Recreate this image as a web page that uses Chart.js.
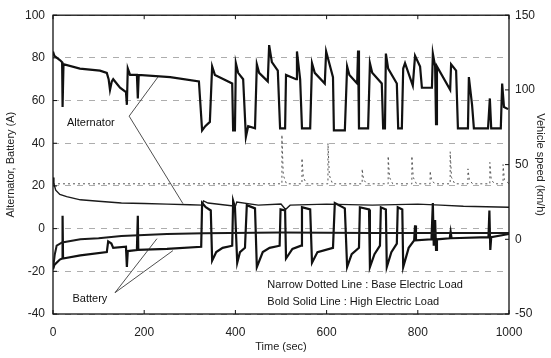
<!DOCTYPE html>
<html>
<head>
<meta charset="utf-8">
<script src="https://cdn.jsdelivr.net/npm/chart.js@4.4.1/dist/chart.umd.min.js"></script>
<style>
  html, body { margin: 0; padding: 0; background: #fff; }
  #wrap { width: 551px; height: 358px; position: relative; }
</style>
</head>
<body>
<div id="wrap"><canvas id="chart"></canvas></div>
<script>
// ---------------------------------------------------------------------------
// Data (time in sec, current in A)
// ---------------------------------------------------------------------------
const xTicks = [0, 200, 400, 600, 800, 1000];
const leftTicks = [-40, -20, 0, 20, 40, 60, 80, 100];
const rightTicks = [-50, 0, 50, 100, 150];

// Alternator, high electric load (bold solid)
const altHigh = [
    [0, 83], [3, 81], [15, 79], [20, 78], [21, 57], [23, 77], [59, 75], [103, 74], [118, 73],
    [122, 70], [125, 65], [129, 69], [132, 70], [147, 66], [160, 64], [162, 58], [164, 75],
    [169, 72], [184, 72], [186, 61], [188, 72], [257, 71], [320, 69], [327, 46], [334, 48],
    [344, 50], [349, 76], [355, 72], [393, 68], [395, 46], [399, 46], [401, 77.5], [406, 73],
    [417, 70], [423, 43], [428, 48], [443, 47], [447, 77], [452, 73], [471, 69], [474, 86],
    [480, 78], [493, 74], [498, 47], [509, 47], [511, 72], [533, 70], [535, 83], [542, 70],
    [546, 47], [564, 47], [568, 77.5], [574, 73], [596, 68], [599, 83], [614, 71], [616, 46],
    [640, 46], [645, 76], [650, 72], [667, 68], [669, 83.5], [671, 47], [691, 47], [695, 77.5],
    [700, 73], [721, 68], [724, 47], [728, 47], [730, 82], [735, 75], [754, 68], [757, 47],
    [765, 47], [768, 75], [772, 77.5], [789, 67], [794, 81], [805, 76], [809, 66], [831, 66],
    [833, 82], [838, 76], [840, 49], [842, 76], [871, 65], [873, 77], [884, 74], [888, 47],
    [910, 47], [912, 71], [919, 58], [923, 47], [954, 47], [958, 61], [961, 47], [982, 47],
    [985, 68], [989, 57], [998, 56]
];

// Battery, high electric load (bold solid)
const batHigh = [
    [0, -19], [3, -17], [15, -14.5], [20, -14], [21, 6], [22, -14], [60, -12.5], [118, -11],
    [121, -6], [128, -7], [132, -9], [160, -8.5], [162, -18], [164, -10.5], [184, -10], [186, 6],
    [187, -10], [250, -9.5], [325, -8.5], [327, 12], [335, 10], [346, 8.5], [349, -15], [358, -11],
    [372, -9], [393, -8], [395, 13], [399, 10], [404, -16], [410, -11], [421, -9], [425, 11],
    [443, 9.5], [447, -18], [460, -11], [475, -9], [497, -8], [499, 9], [509, 8.5], [511, -14],
    [525, -9.5], [544, -8], [546, 10], [564, 9], [568, -16], [580, -11], [614, -9], [618, 12],
    [640, 9.5], [645, -18], [655, -12], [671, -9], [673, 10], [693, 9], [695, -18], [705, -12],
    [717, -8], [719, 10], [730, 9], [732, -18], [742, -11], [754, -7], [756, 10], [766, 9],
    [768, -18], [780, -9], [792, -5.5], [794, 1.5], [796, -5.5], [830, -5], [833, 12], [835, -8],
    [838, 4], [840, -10], [842, -5], [870, -4.5], [872, -1.5], [874, -4.5], [955, -4], [957, 8.5],
    [959, -10], [961, -4], [1000, -2.5]
];

// Alternator, base electric load
const altBase = [
    [0, 24], [2, 21], [6, 18], [15, 16], [30, 15], [60, 13.5], [100, 12.8], [150, 12], [200, 11.8],
    [250, 11.5], [300, 11.2], [327, 11], [330, 13], [340, 12], [400, 10.5], [403, 12.5], [450, 11],
    [500, 11.5], [510, 9], [520, 11], [600, 11.5], [700, 11], [800, 11.5], [850, 11], [900, 10.5],
    [1000, 10]
];

// Battery, base electric load
const batBase = [
    [0, -19], [4, -12], [8, -8], [20, -6.5], [60, -5], [100, -4.5], [150, -3.5], [200, -3],
    [250, -2.5], [330, -2.2], [500, -1.8], [700, -2], [1000, -2]
];

// Narrow dotted line (base load transients)
const dottedBase = [
    [0, 21], [502, 21], [502, 44], [505, 25], [512, 21], [546, 21], [546, 33], [549, 24], [556, 21],
    [603, 21], [603, 40], [606, 25], [613, 21], [678, 21], [678, 28], [681, 23], [688, 21],
    [735, 21], [735, 34], [738, 24], [745, 21], [787, 21], [787, 34], [790, 24], [797, 21],
    [827, 21], [827, 27], [830, 23], [837, 21], [871, 21], [871, 36], [874, 24], [881, 21],
    [910, 21], [910, 28], [913, 23], [920, 21], [958, 21], [958, 31], [961, 23], [968, 21],
    [987, 21], [987, 30], [990, 23], [1000, 21]
];

// Pointer annotations (data coords)
const altLabel = { text: "Alternator", x: 83, y: 49.5 };
const altPointers = [[167, 52.7, 230, 71], [167, 52.7, 285, 11.7]];
const batLabel = { text: "Battery", x: 81, y: -33 };
const batPointers = [[136, -30, 228, -4.7], [136, -30, 263, -10.3]];
const noteLines = ["Narrow Dotted Line : Base Electric Load", "Bold Solid Line : High Electric Load"];
const notePos = { x: 470, y: -26.5 };

// ---------------------------------------------------------------------------
// Helpers
// ---------------------------------------------------------------------------
const toXY = arr => arr.map(p => ({ x: p[0], y: p[1] }));
const FONT = "'Liberation Sans', Arial, sans-serif";

function lineSet(label, data, width, color, dash) {
    return {
        label: label,
        data: toXY(data),
        borderColor: color,
        borderWidth: width,
        borderDash: dash || [],
        pointRadius: 0,
        tension: 0,
        fill: false,
        yAxisID: 'y'
    };
}

// Frame, inward ticks and annotations
const decorations = {
    id: 'decorations',
    afterDatasetsDraw(chart) {
        const { ctx, chartArea: a, scales } = chart;
        const sx = scales.x, sy = scales.y, sy2 = scales.y2;
        ctx.save();
        ctx.strokeStyle = '#111';
        ctx.lineWidth = 1.3;
        ctx.strokeRect(a.left, a.top, a.right - a.left, a.bottom - a.top);

        ctx.lineWidth = 1;
        xTicks.forEach(t => {
            const px = sx.getPixelForValue(t);
            ctx.beginPath();
            ctx.moveTo(px, a.bottom); ctx.lineTo(px, a.bottom - 4);
            ctx.moveTo(px, a.top); ctx.lineTo(px, a.top + 4);
            ctx.stroke();
        });
        leftTicks.forEach(v => {
            const py = sy.getPixelForValue(v);
            ctx.beginPath();
            ctx.moveTo(a.left, py); ctx.lineTo(a.left + 4, py);
            ctx.stroke();
        });
        rightTicks.forEach(v => {
            const py = sy2.getPixelForValue(v);
            ctx.beginPath();
            ctx.moveTo(a.right, py); ctx.lineTo(a.right - 4, py);
            ctx.stroke();
        });

        // pointer lines
        ctx.lineWidth = 0.8;
        ctx.strokeStyle = '#222';
        altPointers.concat(batPointers).forEach(p => {
            ctx.beginPath();
            ctx.moveTo(sx.getPixelForValue(p[0]), sy.getPixelForValue(p[1]));
            ctx.lineTo(sx.getPixelForValue(p[2]), sy.getPixelForValue(p[3]));
            ctx.stroke();
        });

        // labels
        ctx.fillStyle = '#111';
        ctx.font = '11px ' + FONT;
        ctx.textAlign = 'center';
        ctx.textBaseline = 'middle';
        [altLabel, batLabel].forEach(l => {
            ctx.fillText(l.text, sx.getPixelForValue(l.x), sy.getPixelForValue(l.y));
        });
        ctx.textAlign = 'left';
        const nx = sx.getPixelForValue(notePos.x);
        const ny = sy.getPixelForValue(notePos.y);
        noteLines.forEach((s, i) => ctx.fillText(s, nx, ny + i * 17));
        ctx.restore();
    }
};

// ---------------------------------------------------------------------------
// Chart
// ---------------------------------------------------------------------------
new Chart(document.getElementById('chart'), {
    type: 'line',
    data: {
        datasets: [
            lineSet('Alternator (base)', altBase, 1.4, '#1a1a1a'),
            lineSet('Battery (base)', batBase, 2, '#1a1a1a'),
            lineSet('Base load transient', dottedBase, 1, '#555', [2, 3]),
            lineSet('Battery (high)', batHigh, 2.2, '#111'),
            lineSet('Alternator (high)', altHigh, 2.2, '#111')
        ]
    },
    options: {
        responsive: true,
        maintainAspectRatio: false,
        animation: false,
        layout: { padding: { top: 14, left: 0, right: 0, bottom: 0 } },
        plugins: {
            legend: { display: false },
            tooltip: { enabled: false }
        },
        scales: {
            x: {
                type: 'linear',
                min: 0,
                max: 1000,
                afterBuildTicks: s => { s.ticks = xTicks.map(v => ({ value: v })); },
                afterFit: s => { s.height = 44; },
                grid: { display: false, drawTicks: false },
                border: { display: false },
                ticks: { color: '#222', padding: 11, maxRotation: 0, callback: v => String(v), font: { size: 12, family: FONT } },
                title: { display: true, text: 'Time (sec)', color: '#222', padding: { top: 2, bottom: 4 }, font: { size: 11, family: FONT } }
            },
            y: {
                position: 'left',
                min: -40,
                max: 100,
                afterBuildTicks: s => { s.ticks = leftTicks.map(v => ({ value: v })); },
                afterFit: s => { s.width = 53; },
                grid: { color: '#999', lineWidth: 0.8, drawTicks: false },
                border: { display: false, dash: [6, 6] },
                ticks: { color: '#222', padding: 8, font: { size: 12, family: FONT } },
                title: { display: true, text: 'Alternator, Battery (A)', color: '#222', padding: { top: 4, bottom: 2 }, font: { size: 11, family: FONT } }
            },
            y2: {
                position: 'right',
                min: -50,
                max: 150,
                afterBuildTicks: s => { s.ticks = rightTicks.map(v => ({ value: v })); },
                afterFit: s => { s.width = 42; },
                grid: { display: false, drawTicks: false },
                border: { display: false },
                ticks: { color: '#222', padding: 6, font: { size: 12, family: FONT } },
                title: { display: true, text: 'Vehicle speed (km/h)', color: '#222', padding: { top: 4, bottom: 2 }, font: { size: 11, family: FONT } }
            }
        }
    },
    plugins: [decorations]
});
</script>
</body>
</html>
